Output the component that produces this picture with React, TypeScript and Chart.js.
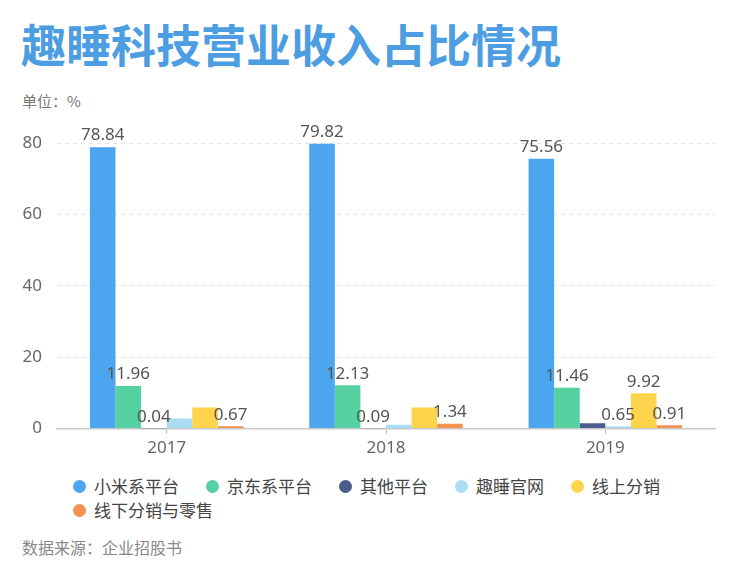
import { useEffect, useRef } from "react";
import { Chart, registerables } from "chart.js";

Chart.register(...registerables);

const years = ["2017", "2018", "2019"];

const seriesNames = [
  "小米系平台",
  "京东系平台",
  "其他平台",
  "趣睡官网",
  "线上分销",
  "线下分销与零售",
];

const seriesColors = ["#4ba6ef", "#56d1a1", "#4b5c8f", "#aadcf4", "#fdd44b", "#f4924f"];

// bar heights (%)
const xiaomi = [78.84, 79.82, 75.56];
const jd = [11.96, 12.13, 11.46];
const others = [0.04, 0.09, 1.5];
const official = [2.8, 1.1, 0.65];
const onlineDist = [5.9, 5.9, 9.92];
const offline = [0.67, 1.34, 0.91];

// value labels as printed on the picture (null = no label shown)
const xiaomiLabels = ["78.84", "79.82", "75.56"];
const jdLabels = ["11.96", "12.13", "11.46"];
const othersLabels = ["0.04", "0.09", null];
const officialLabels = [null, null, "0.65"];
const onlineDistLabels = [null, null, "9.92"];
const offlineLabels = ["0.67", "1.34", "0.91"];

const yTicks = [0, 20, 40, 60, 80];

const seriesValues = [xiaomi, jd, others, official, onlineDist, offline];
const seriesLabels = [
  xiaomiLabels,
  jdLabels,
  othersLabels,
  officialLabels,
  onlineDistLabels,
  offlineLabels,
];

const FONT = "'Noto Sans', 'Noto Sans CJK SC', sans-serif";
const CJK = "'Noto Sans CJK SC', sans-serif";

// draws the printed value above each bar
const valueLabels = {
  id: "valueLabels",
  afterDatasetsDraw(chart: any) {
    const ctx = chart.ctx;
    ctx.save();
    ctx.font = `17px ${FONT}`;
    ctx.fillStyle = "#555";
    ctx.textAlign = "center";
    ctx.textBaseline = "bottom";
    chart.data.datasets.forEach((ds: any, i: number) => {
      const meta = chart.getDatasetMeta(i);
      meta.data.forEach((bar: any, j: number) => {
        const text = seriesLabels[i][j];
        if (text) ctx.fillText(text, bar.x, bar.y - 3);
      });
    });
    ctx.restore();
  },
};

const App = () => {
  const canvasRef = useRef<HTMLCanvasElement | null>(null);

  useEffect(() => {
    document.body.style.margin = "0";
    if (!canvasRef.current) return;

    const chart = new Chart(canvasRef.current, {
      type: "bar",
      data: {
        labels: years,
        datasets: seriesNames.map((name, i) => ({
          label: name,
          data: seriesValues[i],
          backgroundColor: seriesColors[i],
          barPercentage: 1,
          categoryPercentage: 0.7,
        })),
      },
      options: {
        animation: false,
        responsive: false,
        layout: { padding: { top: 43, right: 19, bottom: 2, left: 0 } },
        plugins: {
          legend: { display: false },
          tooltip: { enabled: false },
        },
        scales: {
          x: {
            grid: {
              offset: false,
              drawOnChartArea: false,
              drawTicks: true,
              tickLength: 5,
              color: "#bbb",
            },
            border: { color: "#c8c8c8", width: 1.5 },
            ticks: {
              color: "#666",
              font: { size: 17, family: FONT },
              padding: 4,
            },
          },
          y: {
            min: 0,
            max: 80,
            afterBuildTicks: (scale: any) => {
              scale.ticks = yTicks.map((v) => ({ value: v }));
            },
            afterFit: (scale: any) => {
              scale.width = 57;
            },
            grid: {
              color: "#e2e2e2",
              drawTicks: false,
            },
            border: { display: false, dash: [4, 4] },
            ticks: {
              color: "#666",
              font: { size: 17, family: FONT },
              padding: 15,
            },
          },
        },
      },
      plugins: [valueLabels],
    });

    return () => {
      chart.destroy();
    };
  }, []);

  return (
    <div style={{ position: "relative", width: 734, height: 577, background: "#fff", fontFamily: CJK }}>
      <div
        style={{
          position: "absolute",
          left: 21,
          top: 13,
          fontSize: 45,
          fontWeight: 700,
          color: "#4c9de2",
          lineHeight: "62px",
          whiteSpace: "nowrap",
        }}
      >
        趣睡科技营业收入占比情况
      </div>
      <div style={{ position: "absolute", left: 22, top: 90, fontSize: 15, color: "#777", lineHeight: "22px" }}>
        单位：%
      </div>
      <canvas
        ref={canvasRef}
        width={734}
        height={364}
        style={{ position: "absolute", left: 0, top: 100, width: 734, height: 364 }}
      />
      <div
        style={{
          position: "absolute",
          left: 73,
          top: 474,
          width: 640,
          display: "flex",
          flexWrap: "wrap",
          fontSize: 17,
          color: "#444",
          lineHeight: "24px",
        }}
      >
        {seriesNames.map((name, i) => (
          <div key={name} style={{ display: "flex", alignItems: "center", marginRight: 27 }}>
            <span
              style={{
                display: "inline-block",
                width: 13,
                height: 13,
                borderRadius: "50%",
                background: seriesColors[i],
                marginRight: 8,
              }}
            />
            <span>{name}</span>
          </div>
        ))}
      </div>
      <div style={{ position: "absolute", left: 22, top: 536, fontSize: 16, color: "#888", lineHeight: "22px" }}>
        数据来源：企业招股书
      </div>
    </div>
  );
};

export default App;
